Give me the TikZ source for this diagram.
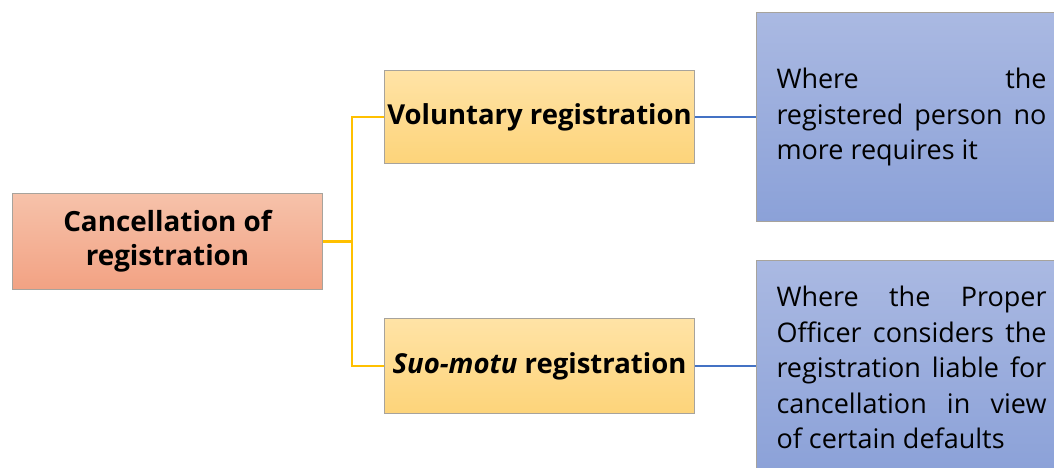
\documentclass[tikz,border=0pt]{standalone}
\usepackage{fontspec}
\setmainfont{Open Sans}
\newfontfamily\headfont{Open Sans}
\newcommand\leaffont{\hyphenpenalty=10000\relax\exhyphenpenalty=10000\relax\hbadness=10000\relax\fontsize{27}{35.5}\selectfont}
\definecolor{salmonT}{HTML}{F6C2AA}
\definecolor{salmonB}{HTML}{F2A283}
\definecolor{yelT}{HTML}{FFE3A6}
\definecolor{yelB}{HTML}{FDD47A}
\definecolor{bluT}{HTML}{AAB9E2}
\definecolor{bluB}{HTML}{8BA1D8}
\definecolor{edge}{HTML}{A7A39C}
\definecolor{yline}{HTML}{FFC000}
\definecolor{bline}{HTML}{4472C4}
\tikzset{
  box/.style={draw=edge, line width=1pt, rectangle, anchor=north west, inner sep=0pt},
  rootbox/.style={box, top color=salmonT, bottom color=salmonB, minimum width=310pt, minimum height=96pt,
     align=center, font=\headfont\bfseries\fontsize{27.8}{34}\selectfont},
  midbox/.style={box, top color=yelT, bottom color=yelB, minimum width=310pt, minimum height=93pt,
     align=center, font=\headfont\bfseries\fontsize{27.5}{34}\selectfont},
  leafbox/.style={box, top color=bluT, bottom color=bluB, text width=270pt, inner xsep=20pt,
     align=justify, font=\leaffont},
  yconn/.style={draw=yline, line width=2.4pt},
  bconn/.style={draw=bline, line width=2.4pt},
}
\begin{document}
\begin{tikzpicture}[x=1pt,y=-1pt]
\useasboundingbox (0,0) rectangle (1054,467);
\node[rootbox] (root) at (12,193) {Cancellation of\\registration};
\node[midbox] (vol) at (384,70) {Voluntary registration};
\node[midbox, minimum height=95pt] (suo) at (384,318) {\textit{Suo-motu} registration};
\node[leafbox, minimum height=209pt] (l1) at (756,12) {Where the\linebreak registered person no\linebreak more requires it};
\node[leafbox, minimum height=214pt] (l2) at (756,260) {Where the Proper\linebreak Officer considers the\linebreak registration liable for\linebreak cancellation in view\linebreak of certain defaults};
\coordinate (j) at (352,0);
\draw[yconn] (root.east) -- (root.east -| j) ;
\draw[yconn] (vol.west) -- (vol.west -| j) -- (suo.west -| j) -- (suo.west);
\draw[bconn] (vol.east) -- (vol.east -| l1.west);
\draw[bconn] (suo.east) -- (suo.east -| l2.west);
\end{tikzpicture}
\end{document}
